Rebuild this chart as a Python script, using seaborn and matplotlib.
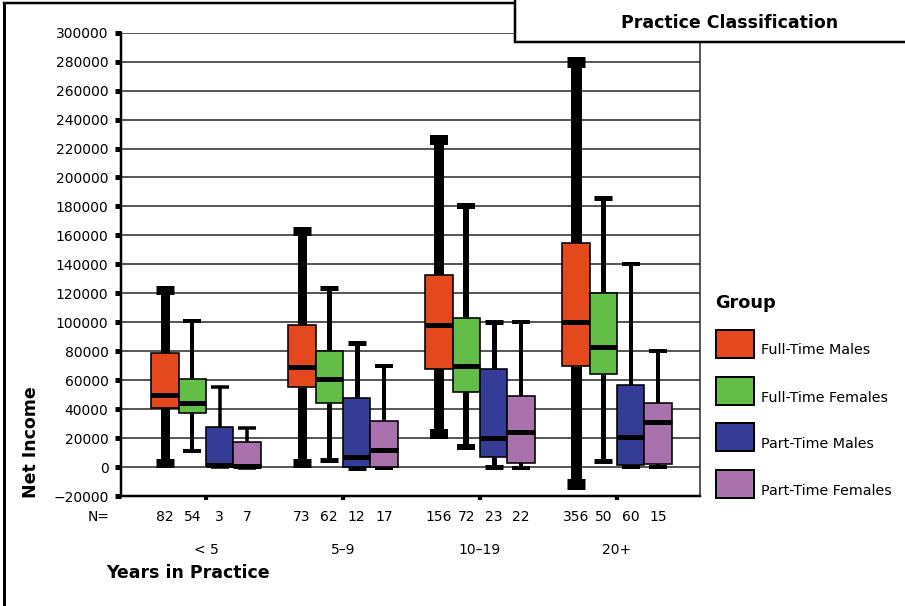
import numpy as np
import pandas as pd
import matplotlib
matplotlib.use("Agg")
import matplotlib.pyplot as plt
import matplotlib.transforms as mtransforms
from matplotlib.patches import Rectangle
from matplotlib.lines import Line2D
import seaborn as sns

# ---- data -----------------------------------------------------------------
years = ["< 5", "5\u20139", "10\u201319", "20+"]
groups = ["Full-Time Males", "Full-Time Females", "Part-Time Males", "Part-Time Females"]

# five-number summaries per years bracket: low whisker, Q1, median, Q3, high whisker
full_time_males = [
    [3000, 41000, 50000, 79000, 122000],
    [3000, 55000, 69000, 98000, 163000],
    [23000, 67500, 98000, 132500, 226000],
    [-12000, 70000, 100000, 155000, 280000],
]
full_time_females = [
    [11000, 37000, 44000, 61000, 101000],
    [5000, 44000, 61000, 80000, 124000],
    [14000, 52000, 69500, 103000, 180000],
    [4000, 64000, 83000, 120000, 186000],
]
part_time_males = [
    [0, 1000, 1500, 28000, 55000],
    [-1000, 0, 7000, 48000, 86000],
    [0, 7000, 20000, 68000, 100000],
    [0, 1500, 21000, 57000, 140000],
]
part_time_females = [
    [-1000, 0, 500, 17000, 27000],
    [-1000, 0, 12000, 32000, 70000],
    [-1000, 3000, 24000, 49000, 100000],
    [0, 2000, 31000, 44000, 80000],
]
# respondents per box, in the same order
n_full_time_males = [82, 73, 156, 356]
n_full_time_females = [54, 62, 72, 50]
n_part_time_males = [3, 12, 23, 60]
n_part_time_females = [7, 17, 22, 15]

y_ticks = list(range(-20000, 300001, 20000))

# ---- long table for seaborn --------------------------------------------------
summaries = [full_time_males, full_time_females, part_time_males, part_time_females]
counts = [n_full_time_males, n_full_time_females, n_part_time_males, n_part_time_females]
rows = []
for grp, per_year in zip(groups, summaries):
    for yr, five in zip(years, per_year):
        for v in five:
            rows.append({"Years in Practice": yr, "Group": grp, "Net Income": v})
df = pd.DataFrame(rows)

# ---- styling ---------------------------------------------------------------
colors = ["#E4491E", "#63BE48", "#343C96", "#A972AD"]
# whisker stroke widths in pixels (per group, per years bracket)
whisker_px = [
    [9, 9, 10, 11],
    [4, 5, 6, 5],
    [3.5, 5, 5, 4],
    [3.5, 4, 4, 4],
]

W, H = 905, 606
DPI = 100
PT = 72.0 / DPI  # points per pixel


def fx(px):
    return px / W


def fy(py):
    return 1 - py / H


plt.rcParams["font.family"] = ["DejaVu Sans"]
fig = plt.figure(figsize=(W / DPI, H / DPI), dpi=DPI)
fig.patch.set_facecolor("white")

ax_left, ax_right, ax_top, ax_bottom = 121, 700, 32.7, 496
ax = fig.add_axes([fx(ax_left), fy(ax_bottom), (ax_right - ax_left) / W, (ax_bottom - ax_top) / H])

sns.boxplot(
    data=df, x="Years in Practice", y="Net Income", hue="Group",
    order=years, hue_order=groups, palette=colors, saturation=1,
    whis=(0, 100), width=0.8, gap=0, fliersize=0,
    linecolor="black", linewidth=1.5 * PT, legend=False, ax=ax,
)

cap_half = 9.0 / 137.0
for hi, cont in enumerate(ax.containers):
    for bi, box in enumerate(cont.boxes):
        lw = whisker_px[hi][bi] * PT
        box.set_edgecolor("black")
        box.set_linewidth(1.6 * PT)
        box.set_zorder(3)
        med = cont.medians[bi]
        med.set_linewidth(5 * PT)
        med.set_color("black")
        med.set_solid_capstyle("butt")
        med.set_zorder(4)
        for w in cont.whiskers[2 * bi: 2 * bi + 2]:
            w.set_linewidth(lw)
            w.set_color("black")
            w.set_solid_capstyle("butt")
            w.set_zorder(2)
        for c in cont.caps[2 * bi: 2 * bi + 2]:
            xs = c.get_xdata()
            xc = 0.5 * (xs[0] + xs[1])
            c.set_xdata([xc - cap_half, xc + cap_half])
            c.set_linewidth(lw)
            c.set_color("black")
            c.set_solid_capstyle("butt")
            c.set_zorder(2)

ax.set_xlim(-0.62, 3.606)
ax.set_ylim(-20000, 300000)
ax.set_yticks(y_ticks)
ax.set_yticklabels([f"{t}".replace("-", "\u2212") for t in y_ticks], fontsize=10)
ax.yaxis.grid(True, color="#222222", linewidth=1.5 * PT, zorder=0)
ax.xaxis.grid(False)
ax.set_axisbelow(True)

ax.tick_params(axis="y", length=4.5, width=3.6, pad=4.5, color="black")
ax.tick_params(axis="x", length=3, width=3, pad=31, labelsize=10)

for side in ["left", "bottom"]:
    ax.spines[side].set_linewidth(2.5 * PT)
    ax.spines[side].set_color("black")
ax.spines["right"].set_linewidth(1.5 * PT)
ax.spines["right"].set_color("#222222")
ax.spines["top"].set_visible(False)

ax.set_ylabel("Net Income", fontsize=12.5, fontweight="bold", va="center", ha="center")
ax.yaxis.set_label_coords((31 - ax_left) / (ax_right - ax_left), (ax_bottom - 442) / (ax_bottom - ax_top))
ax.set_xlabel("Years in Practice", fontsize=12.5, fontweight="bold", ha="left", va="baseline")
ax.xaxis.set_label_coords((106 - ax_left) / (ax_right - ax_left), (ax_bottom - 578) / (ax_bottom - ax_top))

# sample sizes under each box
blend = mtransforms.blended_transform_factory(ax.transData, fig.transFigure)
offsets = [-0.3, -0.1, 0.1, 0.3]
for hi, ns in enumerate(counts):
    for gi, n in enumerate(ns):
        ax.text(gi + offsets[hi], fy(521), str(n), transform=blend, ha="center",
                va="baseline", fontsize=10, clip_on=False)
fig.text(fx(88), fy(521), "N=", ha="left", va="baseline", fontsize=10)

# figure frame (top and left edges)
fig.add_artist(Line2D([fx(3.5), fx(3.5)], [fy(3), fy(606)], color="black", lw=3 * PT))
fig.add_artist(Line2D([fx(3.5), fx(905)], [fy(3), fy(3)], color="black", lw=2.5 * PT))

# heading box
fig.add_artist(Rectangle((fx(515), fy(42)), 400 / W, 45 / H, transform=fig.transFigure,
                         facecolor="white", edgecolor="black", lw=2.5 * PT, zorder=10))
fig.text(fx(730), fy(28), "Practice Classification", ha="center", va="baseline",
         fontsize=12.5, fontweight="bold", zorder=11)

# legend
fig.text(fx(715), fy(308), "Group", ha="left", va="baseline", fontsize=12.8, fontweight="bold")
patch_tops = [330, 377, 423, 470]
label_base = [354, 402, 448, 495]
for col, name, top, base in zip(colors, groups, patch_tops, label_base):
    fig.add_artist(Rectangle((fx(716), fy(top + 28)), 38 / W, 28 / H, transform=fig.transFigure,
                             facecolor=col, edgecolor="black", lw=2 * PT))
    fig.text(fx(761), fy(base), name, ha="left", va="baseline", fontsize=10.3)

fig.savefig("out.png", dpi=DPI)
